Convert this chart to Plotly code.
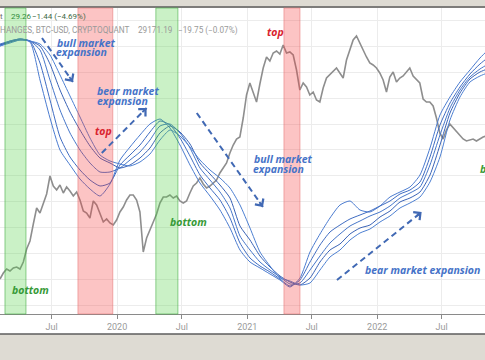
import plotly.graph_objects as go
import pandas as pd

# ---------------- data ----------------
tick_dates = ["2019-07-01", "2020-01-01", "2020-07-01", "2021-01-01",
              "2021-07-01", "2022-01-01", "2022-07-01"]
tick_labels = ["Jul", "2020", "Jul", "2021", "Jul", "2022", "Jul"]

# BTC price (index units)
btc_index = [35, 41, 45, 43, 46, 47, 45, 52, 65, 73,
             90, 106, 101, 111, 120, 138, 128, 124, 129, 121,
             127, 123, 118, 122, 114, 103, 101, 96, 113, 109,
             101, 92, 95, 91, 89, 94, 102, 107, 114, 119,
             119, 114, 102, 62, 76, 85, 92, 100, 111, 117,
             117, 119, 116, 118, 113, 111, 113, 121, 128, 131,
             136, 130, 126, 128, 131, 134, 141, 146, 151, 161,
             169, 175, 177, 196, 219, 231, 222, 212, 230, 246,
             257, 253, 261, 263, 260, 269, 261, 262, 259, 244,
             224, 231, 227, 219, 222, 214, 212, 226, 236, 239,
             242, 246, 241, 236, 254, 264, 274, 278, 271, 263,
             257, 251, 249, 246, 241, 234, 222, 237, 242, 232,
             236, 238, 242, 246, 238, 235, 231, 215, 212, 212,
             208, 196, 181, 175, 184, 190, 186, 183, 179, 175,
             173, 174, 175, 173, 175, 177, 178]
btc_dates = pd.date_range("2019-02-06", "2022-11-04", periods=len(btc_index))

# CryptoQuant metric, five averaging windows (fast -> slow)
ma1 = [268, 272, 275, 272, 234, 196, 164, 149, 135, 125, 118, 130, 154, 167, 179, 190, 195, 186, 169, 149,
       131, 118, 104, 86, 64, 52, 46, 40, 34, 27, 36, 62, 80, 96, 109, 113, 104, 102, 108, 117,
       122, 127, 139, 166, 199, 217, 232, 244, 256, 266]
ma2 = [269, 273, 275, 273, 251, 214, 177, 157, 144, 134, 128, 131, 149, 159, 169, 182, 193, 189, 176, 158,
       139, 126, 114, 96, 71, 56, 48, 42, 35, 28, 34, 52, 69, 82, 89, 95, 99, 103, 108, 113,
       120, 124, 132, 157, 189, 211, 227, 240, 250, 258]
ma3 = [270, 273, 275, 273, 264, 234, 204, 181, 164, 151, 142, 142, 146, 154, 162, 174, 188, 190, 181, 166,
       146, 134, 122, 106, 78, 64, 52, 44, 37, 30, 31, 44, 58, 71, 80, 88, 93, 98, 102, 108,
       116, 121, 127, 149, 179, 206, 224, 237, 245, 251]
ma4 = [269, 272, 274, 273, 268, 250, 224, 202, 184, 168, 156, 151, 146, 149, 156, 166, 181, 188, 182, 170,
       151, 140, 129, 116, 88, 74, 58, 47, 38, 32, 29, 36, 52, 64, 70, 80, 86, 89, 97, 103,
       112, 116, 122, 139, 169, 201, 221, 235, 242, 246]
ma5 = [268, 271, 274, 273, 270, 259, 239, 218, 197, 176, 159, 153, 150, 148, 152, 160, 174, 184, 178, 167,
       154, 144, 136, 126, 109, 86, 62, 48, 36, 33, 29, 31, 44, 57, 64, 74, 81, 85, 92, 98,
       106, 111, 117, 132, 157, 194, 217, 232, 238, 242]
ma_dates = pd.date_range("2019-02-06", "2022-11-14", periods=len(ma1))

green_bands = [("2019-02-20", "2019-04-20"), ("2020-04-19", "2020-06-20")]
red_bands = [("2019-09-13", "2019-12-20"), ("2021-04-14", "2021-05-29")]

# ---------------- figure ----------------
fig = go.Figure()
fig.add_trace(go.Scatter(x=btc_dates, y=btc_index, mode="lines",
                         line=dict(color="#8e8e8e", width=1.6), showlegend=False))
ma_colors = ["#4a7bd0", "#3f6cc2", "#4676c9", "#3a63b6", "#4d80d2"]
for vals, col in zip([ma1, ma2, ma3, ma4, ma5], ma_colors):
    fig.add_trace(go.Scatter(x=ma_dates, y=vals, mode="lines",
                             line=dict(color=col, width=1, shape="spline", smoothing=0.6),
                             showlegend=False))

shapes = []
shapes.append(dict(type="rect", xref="paper", yref="paper", x0=0, x1=1, y0=-0.0654, y1=1.0,
                   fillcolor="white", line=dict(width=0), layer="below"))
shapes.append(dict(type="line", xref="paper", yref="paper", x0=0, x1=1, y0=1.003, y1=1.003,
                   line=dict(color="#5c5c5c", width=1.5)))
shapes.append(dict(type="line", xref="paper", yref="paper", x0=0, x1=1, y0=-0.0654, y1=-0.0654,
                   line=dict(color="#5c5c5c", width=1.5)))
for a, b in green_bands:
    shapes.append(dict(type="rect", xref="x", yref="paper", x0=a, x1=b, y0=0, y1=1,
                       fillcolor="rgba(80,210,65,0.30)", line=dict(color="rgba(60,170,60,0.55)", width=1),
                       layer="above"))
for a, b in red_bands:
    shapes.append(dict(type="rect", xref="x", yref="paper", x0=a, x1=b, y0=0, y1=1,
                       fillcolor="rgba(245,60,60,0.30)", line=dict(color="rgba(230,110,110,0.5)", width=1),
                       layer="above"))

arrow_color = "#4169b4"
arrows = [  # tail (date, value) -> head (date, value), head offset in px
    (("2019-06-04", 276), ("2019-08-30", 232), (-4.6, -6.5)),
    (("2019-11-19", 161), ("2020-03-24", 206), (-5.7, 5.7)),
    (("2020-08-12", 201), ("2021-02-14", 107), (-4.6, -6.6)),
    (("2021-09-10", 34), ("2022-05-06", 102), (-6.3, 5.0)),
]
annotations = []
for (t, h, off) in arrows:
    shapes.append(dict(type="line", xref="x", yref="y", x0=t[0], y0=t[1], x1=h[0], y1=h[1],
                       line=dict(color=arrow_color, width=2, dash="6px,4px"), layer="above"))
    annotations.append(dict(x=h[0], y=h[1], xref="x", yref="y", text="", showarrow=True,
                            ax=off[0], ay=off[1], arrowhead=4, arrowsize=1.1, arrowwidth=1.8,
                            arrowcolor=arrow_color, standoff=0))

def label(date, val, text, color, size=10.5):
    annotations.append(dict(x=date, y=val, xref="x", yref="y", text="<b><i>%s</i></b>" % text,
                            showarrow=False, xanchor="left", yanchor="middle",
                            font=dict(family="Open Sans", size=size, color=color)))

blue_txt = "#4673c8"
red_txt = "#d9232e"
green_txt = "#379a37"
label("2019-07-10", 271, "bull market", blue_txt)
label("2019-07-07", 262, "expansion", blue_txt)
label("2019-10-31", 223, "bear market", blue_txt)
label("2019-10-31", 213, "expansion", blue_txt)
label("2021-01-14", 155, "bull market", blue_txt)
label("2021-01-11", 145, "expansion", blue_txt)
label("2021-11-22", 44, "bear market expansion", blue_txt)
label("2019-10-25", 183, "top", red_txt)
label("2021-02-20", 282, "top", red_txt)
label("2019-03-06", 24, "bottom", green_txt)
label("2020-05-23", 92, "bottom", green_txt)
label("2022-10-11", 145, "bottom", green_txt)

def header(xp, yp, text, color, size):
    annotations.append(dict(x=xp, y=yp, xref="paper", yref="paper", text=text, showarrow=False,
                            xanchor="left", yanchor="middle",
                            font=dict(family="Roboto", size=size, color=color)))

header(-0.004, 0.9706, "t", "#6a6a6a", 8)
header(0.018, 0.9706, "29.26", "#2f8a3a", 8)
header(0.061, 0.9706, "\u22121.44 (\u22124.69%)", "#3f6a45", 8)
header(-0.004, 0.928, "HANGES, BTC-USD, CRYPTOQUANT", "#9a9a9a", 8.2)
header(0.281, 0.928, "29171.19", "#9a9a9a", 8.2)
header(0.362, 0.928, "\u221219.75 (\u22120.07%)", "#9a9a9a", 8.2)

fig.update_layout(
    width=485, height=360,
    margin=dict(l=0, r=0, t=8, b=46),
    paper_bgcolor="#dedbd3", plot_bgcolor="white",
    shapes=shapes, annotations=annotations,
    xaxis=dict(type="date", range=["2019-02-06", "2022-10-31"],
               tickvals=tick_dates, ticktext=tick_labels,
               showgrid=True, gridcolor="#ececec", gridwidth=1,
               ticks="outside", ticklen=4, tickcolor="#8a8a8a",
               showline=True, linecolor="#8a8a8a", linewidth=1,
               tickfont=dict(family="Roboto", size=9, color="#9a9a9a"),
               zeroline=False, fixedrange=True),
    yaxis=dict(range=[0, 306], showticklabels=False, showgrid=True, gridcolor="#ececec",
               tick0=9, dtick=25.85, zeroline=False, ticks="", fixedrange=True),
    showlegend=False,
)

fig.write_html("out.html", config={"displayModeBar": False},
               post_script="document.body.style.margin='0';document.body.style.overflow='hidden';")
